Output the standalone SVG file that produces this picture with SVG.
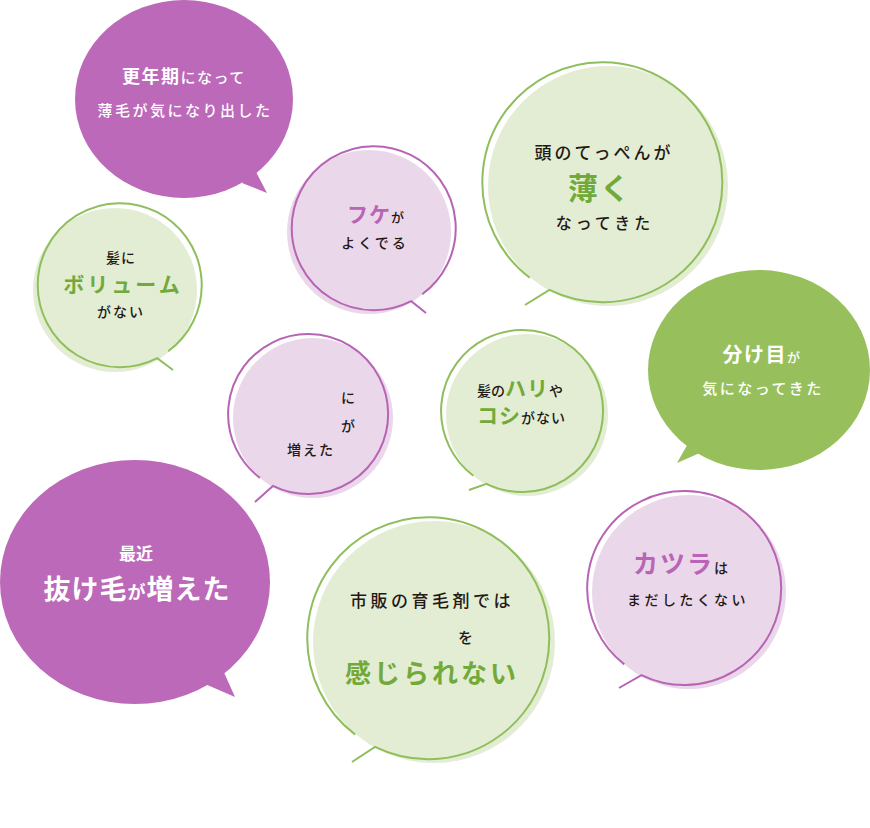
<svg xmlns="http://www.w3.org/2000/svg" width="870" height="828" viewBox="0 0 870 828">
<style>
text{font-family:"Noto Sans CJK JP","Noto Sans",sans-serif;fill:#231815;font-weight:500}
.w{fill:#fff}
.g{fill:#72aa3a;font-weight:700}
.p{fill:#b964b6;font-weight:700}
.b{font-weight:700}
.ps{fill:#bc69b9}
.gs{fill:#97c05d}
.pf{fill:#ead7ea}
.gf{fill:#e3edd3}
.po{fill:none;stroke:#b764b4;stroke-width:2}
.go{fill:none;stroke:#8fbe5c;stroke-width:2}
.m{text-anchor:middle}
</style>
<rect width="870" height="828" fill="#fff"/>

<g id="b1">
<ellipse class="ps" cx="184" cy="99" rx="109" ry="99"/>
<polygon class="ps" points="255,170 267,193 242,183"/>
<text class="w m" x="184" y="83" letter-spacing="1.5"><tspan font-size="18" class="b">更年期</tspan><tspan font-size="15">になって</tspan></text>
<text class="w m" x="185" y="116" font-size="15" letter-spacing="2.5">薄毛が気になり出した</text>
</g>

<g id="b2">
<circle class="pf" cx="369" cy="232" r="82"/>
<path class="po" d="M422.2,294.3 A82,82 0 1 0 411.2,301.1 L426,313"/>
<text class="m" x="376" y="222" letter-spacing="1"><tspan class="p" font-size="21">フケ</tspan><tspan font-size="13">が</tspan></text>
<text class="m" x="375" y="248" font-size="14" letter-spacing="3">よくでる</text>
</g>

<g id="b3">
<circle class="gf" cx="608" cy="186" r="120"/>
<path class="go" d="M529.8,277.8 A120,120 0 1 1 549.4,289.9 L525,305"/>
<text class="m" x="604" y="159" font-size="17" letter-spacing="3">頭のてっぺんが</text>
<text class="g m" x="600" y="199" font-size="30" letter-spacing="2">薄く</text>
<text class="m" x="605" y="229" font-size="16" letter-spacing="4">なってきた</text>
</g>

<g id="b4">
<circle class="gf" cx="115" cy="290" r="82"/>
<path class="go" d="M168.2,351.3 A82,82 0 1 0 157.2,358.1 L173,370"/>
<text class="m" x="121" y="263" font-size="14" letter-spacing="1">髪に</text>
<text class="g m" x="123" y="292" font-size="21" letter-spacing="3">ボリューム</text>
<text class="m" x="121" y="317" font-size="14" letter-spacing="2">がない</text>
</g>

<g id="b5">
<circle class="pf" cx="313" cy="418" r="80"/>
<path class="po" d="M259.9,477.9 A80,80 0 1 1 272.9,485.9 L255,502"/>
<text x="341" y="403" font-size="14">に</text>
<text x="341" y="431" font-size="14">が</text>
<text class="m" x="311" y="455" font-size="14" letter-spacing="2">増えた</text>
</g>

<g id="b6">
<circle class="gf" cx="527" cy="415" r="81"/>
<path class="go" d="M473.3,475.7 A81,81 0 1 1 486.5,483.8 L469,490"/>
<text x="477" y="396"><tspan font-size="14">髪の</tspan><tspan class="g" font-size="21" letter-spacing="1">ハリ</tspan><tspan font-size="14">や</tspan></text>
<text x="477" y="423"><tspan class="g" font-size="21" letter-spacing="1">コシ</tspan><tspan font-size="14" letter-spacing="1">がない</tspan></text>
</g>

<g id="b7">
<ellipse class="gs" cx="759" cy="370" rx="111" ry="100"/>
<polygon class="gs" points="690,440 677,463 702,452"/>
<text class="w m" x="762" y="362" letter-spacing="1.5"><tspan class="b" font-size="20">分け目</tspan><tspan font-size="13">が</tspan></text>
<text class="w m" x="763" y="394" font-size="15" letter-spacing="2.5">気になってきた</text>
</g>

<g id="b8">
<ellipse class="ps" cx="135" cy="582" rx="135" ry="122"/>
<polygon class="ps" points="222,668 235,697 205,684"/>
<text class="w b m" x="136" y="560" font-size="17">最近</text>
<text class="w m b" x="137" y="599" letter-spacing="1"><tspan font-size="27">抜け毛</tspan><tspan font-size="18">が</tspan><tspan font-size="27">増えた</tspan></text>
</g>

<g id="b9">
<circle class="gf" cx="434" cy="642" r="121"/>
<path class="go" d="M355.2,734.6 A121,121 0 1 1 375,746.8 L352,762"/>
<text class="m" x="432" y="607" font-size="17" letter-spacing="3.5">市販の育毛剤では</text>
<text x="458" y="643" font-size="15">を</text>
<text class="g m" x="432" y="683" font-size="26" letter-spacing="3">感じられない</text>
</g>

<g id="b10">
<circle class="pf" cx="689" cy="592" r="97"/>
<path class="po" d="M624.3,664.4 A97,97 0 1 1 641.5,675.2 L619,688"/>
<text x="633" y="573"><tspan class="p" font-size="25" letter-spacing="2">カツラ</tspan><tspan font-size="14">は</tspan></text>
<text class="m" x="688" y="605" font-size="14" letter-spacing="3.4">まだしたくない</text>
</g>

<g id="connectors"></g>
</svg>
